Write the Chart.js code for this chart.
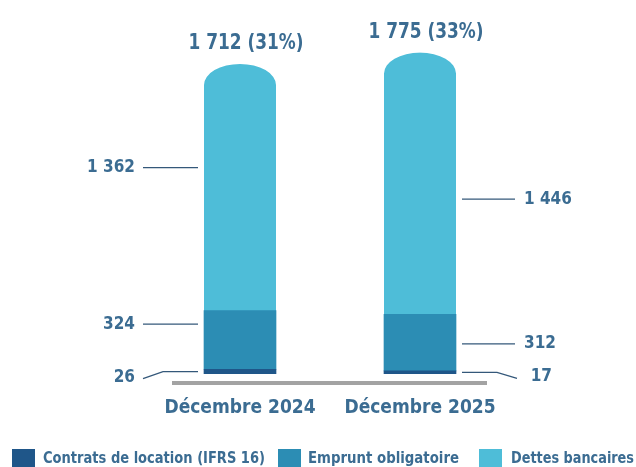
<!DOCTYPE html>
<html>
<head>
<meta charset="utf-8">
<script src="https://cdn.jsdelivr.net/npm/chart.js@4"></script>
<style>
  html, body { margin: 0; padding: 0; background: #fff; }
  #wrap { width: 636px; height: 467px; }
</style>
</head>
<body>
<div id="wrap"><canvas id="chart"></canvas></div>
<script>
"use strict";

// --- data ---
const categories = ['Décembre 2024', 'Décembre 2025'];
const seriesNames = ['Contrats de location (IFRS 16)', 'Emprunt obligatoire', 'Dettes bancaires'];
const contrats = [26, 17];
const emprunt = [324, 312];
const dettes = [1362, 1446];
const totalLabels = ['1 712 (31%)', '1 775 (33%)'];

const COLORS = ['#1f5689', '#2c8db4', '#4ebdd8'];
const TEXT = '#3b6c92';
const LINE = '#34587a';
const FONT = "'DejaVu Sans Condensed', 'DejaVu Sans', sans-serif";

// where each value label sits inside its segment (0 = bottom, 1 = top)
const labelFrac = [
    [0.5, 0.77, 0.58],
    [0.5, 0.48, 0.44]
];

function fmt(v) {
    return v >= 1000 ? Math.floor(v / 1000) + ' ' + String(v % 1000).padStart(3, '0') : String(v);
}

// elliptical cap on the top segment
const capTop = {
    id: 'capTop',
    beforeDatasetDraw(chart, args) {
        if (args.index !== 2) return;
        const ctx = chart.ctx;
        ctx.save();
        ctx.beginPath();
        args.meta.data.forEach(el => {
            const rx = el.width / 2, ry = 21;
            const l = el.x - rx, r = el.x + rx;
            ctx.moveTo(l, el.base + 1);
            ctx.lineTo(l, el.y + ry);
            ctx.ellipse(el.x, el.y + ry, rx, ry, 0, Math.PI, 2 * Math.PI);
            ctx.lineTo(r, el.base + 1);
            ctx.closePath();
        });
        ctx.clip();
    },
    afterDatasetDraw(chart, args) {
        if (args.index !== 2) return;
        chart.ctx.restore();
    }
};

const annotations = {
    id: 'annotations',
    afterDatasetsDraw(chart) {
        const ctx = chart.ctx;
        const metas = [0, 1, 2].map(i => chart.getDatasetMeta(i));
        ctx.save();

        // baseline
        const base = metas[0].data[0].base;
        ctx.strokeStyle = '#a3a3a3';
        ctx.lineWidth = 4;
        ctx.beginPath();
        ctx.moveTo(172, base + 9);
        ctx.lineTo(487, base + 9);
        ctx.stroke();

        ctx.lineWidth = 1.3;
        ctx.strokeStyle = LINE;
        ctx.fillStyle = TEXT;
        ctx.textBaseline = 'middle';

        categories.forEach((cat, ci) => {
            const bar = metas[2].data[ci];
            const left = bar.x - bar.width / 2;
            const right = bar.x + bar.width / 2;
            const leftSide = ci === 0;

            // category label
            ctx.font = `bold 19px ${FONT}`;
            ctx.textAlign = 'center';
            ctx.fillText(cat, bar.x, base + 34, 155);

            // total label
            ctx.font = `bold 21px ${FONT}`;
            ctx.fillText(totalLabels[ci], bar.x + 6, bar.y - 20, 115);

            ctx.font = `bold 17px ${FONT}`;
            metas.forEach((meta, si) => {
                const el = meta.data[ci];
                const value = chart.data.datasets[si].data[ci];
                const y = el.base + (el.y - el.base) * labelFrac[ci][si];
                ctx.beginPath();
                if (si === 0) {
                    // small segment: bent leader line
                    if (leftSide) {
                        ctx.moveTo(left - 6, y);
                        ctx.lineTo(left - 41, y);
                        ctx.lineTo(left - 61, y + 7);
                        ctx.stroke();
                        ctx.textAlign = 'right';
                        ctx.fillText(fmt(value), left - 69, y + 6);
                    } else {
                        ctx.moveTo(right + 6, y);
                        ctx.lineTo(right + 41, y);
                        ctx.lineTo(right + 61, y + 6);
                        ctx.stroke();
                        ctx.textAlign = 'right';
                        ctx.fillText(fmt(value), right + 96, y + 4);
                    }
                } else {
                    if (leftSide) {
                        ctx.moveTo(left - 6, y);
                        ctx.lineTo(left - 61, y);
                        ctx.stroke();
                        ctx.textAlign = 'right';
                        ctx.fillText(fmt(value), left - 69, y);
                    } else {
                        ctx.moveTo(right + 6, y);
                        ctx.lineTo(right + 59, y);
                        ctx.stroke();
                        ctx.textAlign = 'left';
                        ctx.fillText(fmt(value), right + 68, y);
                    }
                }
            });
        });

        // legend
        ctx.font = `bold 16px ${FONT}`;
        ctx.textAlign = 'left';
        const boxX = [12, 278, 479];
        const textX = [43, 308, 511];
        const textW = [222, 151, 123];
        seriesNames.forEach((name, i) => {
            ctx.fillStyle = COLORS[i];
            ctx.fillRect(boxX[i], 449, 23, 20);
            ctx.fillStyle = TEXT;
            ctx.fillText(name, textX[i], 459, textW[i]);
        });

        ctx.restore();
    }
};

new Chart(document.getElementById('chart'), {
    type: 'bar',
    data: {
        labels: categories,
        datasets: [
            { label: seriesNames[0], data: contrats, backgroundColor: COLORS[0] },
            { label: seriesNames[1], data: emprunt, backgroundColor: COLORS[1] },
            { label: seriesNames[2], data: dettes, backgroundColor: COLORS[2] }
        ]
    },
    options: {
        responsive: true,
        maintainAspectRatio: false,
        animation: false,
        layout: { padding: { left: 150, right: 126, top: 48, bottom: 93 } },
        datasets: { bar: { barThickness: 72, borderWidth: 0 } },
        scales: {
            x: { stacked: true, display: false, offset: true },
            y: { stacked: true, display: false, min: 0, max: 1800 }
        },
        plugins: {
            legend: { display: false },
            tooltip: { enabled: false }
        }
    },
    plugins: [capTop, annotations]
});
</script>
</body>
</html>
